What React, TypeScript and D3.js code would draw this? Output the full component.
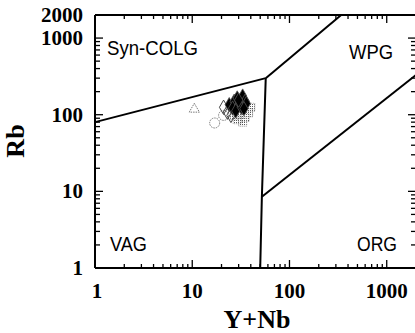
import React from 'react';
import * as d3 from 'd3';

// axis ticks
const xTicks = [1, 10, 100, 1000];
const yTicks = [1, 10, 100, 1000, 2000];

// field boundaries (Y+Nb, Rb)
const synVagX = [1, 57];
const synVagY = [80, 300];
const synWpgX = [57, 340];
const synWpgY = [300, 2000];
const vagOrgX = [57, 52, 50];
const vagOrgY = [300, 8.5, 1];
const orgWpgX = [52, 2000];
const orgWpgY = [8.5, 330];

// samples
const diamondX = [24, 27, 29, 31, 33, 26, 30, 35, 28, 32, 36, 30, 34];
const diamondY = [135, 150, 165, 145, 175, 122, 132, 150, 112, 125, 140, 155, 120];
const openDiamondX = [21, 23, 25];
const openDiamondY = [125, 108, 98];
const squareX = [27, 31, 35, 38, 29, 33, 40];
const squareY = [97, 102, 92, 106, 86, 80, 125];
const circleX = [17, 21];
const circleY = [78, 98];
const triangleX = [10.5];
const triangleY = [118];

const fields = [
  { name: 'Syn-COLG', x: 107, y: 55, w: 91 },
  { name: 'WPG', x: 349, y: 59, w: 44 },
  { name: 'VAG', x: 110, y: 251, w: 37 },
  { name: 'ORG', x: 357, y: 251, w: 40 },
];

const W = 415;
const H = 333;

export default function App() {
  const x = d3.scaleLog().domain([1, 2000]).range([95, 416]);
  const y = d3.scaleLog().domain([1, 2000]).range([268, 15]);

  const minorX = d3.range(0, 4).flatMap((e) => d3.range(2, 10).map((m) => m * 10 ** e)).filter((v) => v <= 2000);
  const minorY = minorX;

  const line = (xs: number[], ys: number[]) =>
    d3.line<number>().x((d) => x(xs[d])).y((d) => y(ys[d]))(xs.map((_, i) => i)) || '';

  const serif = '"Liberation Serif", "Times New Roman", serif';
  const sans = '"Liberation Sans", Arial, sans-serif';

  const diamond = d3.symbol(d3.symbolDiamond, 60)() || '';
  const triangle = d3.symbol(d3.symbolTriangle, 45)() || '';

  return (
    <div style={{ position: 'absolute', left: 0, top: 0 }}>
      <svg width={W} height={H} style={{ display: 'block', background: '#fff' }}>
        <defs>
          <pattern id="dots" width="2" height="2" patternUnits="userSpaceOnUse">
            <rect width="1" height="1" fill="#555" />
          </pattern>
        </defs>

        {/* frame */}
        <g stroke="#000" strokeWidth={2} fill="none">
          <line x1={95} x2={416} y1={268} y2={268} />
          <line x1={95} x2={416} y1={15} y2={15} />
          <line x1={95} x2={95} y1={15} y2={268} />
          <line x1={416} x2={416} y1={15} y2={268} />
        </g>

        {/* ticks */}
        <g stroke="#000" strokeWidth={1.3}>
          {minorX.map((v) => (
            <g key={'mx' + v}>
              <line x1={x(v)} x2={x(v)} y1={268} y2={264} />
              <line x1={x(v)} x2={x(v)} y1={15} y2={19} />
            </g>
          ))}
          {xTicks.map((v) => (
            <g key={'tx' + v}>
              <line x1={x(v)} x2={x(v)} y1={268} y2={260} />
              <line x1={x(v)} x2={x(v)} y1={15} y2={23} />
            </g>
          ))}
          {minorY.map((v) => (
            <g key={'my' + v}>
              <line x1={95} x2={100} y1={y(v)} y2={y(v)} />
              <line x1={416} x2={411} y1={y(v)} y2={y(v)} />
            </g>
          ))}
          {yTicks.map((v) => (
            <g key={'ty' + v}>
              <line x1={95} x2={103} y1={y(v)} y2={y(v)} />
              <line x1={416} x2={408} y1={y(v)} y2={y(v)} />
            </g>
          ))}
        </g>

        {/* tick labels */}
        <g fontFamily={serif} fontWeight="bold" fontSize={21} fill="#000">
          {xTicks.map((v) => (
            <text key={'lx' + v} x={x(v) + (v === 1 ? 2 : 0)} y={298} textAnchor="middle">
              {v}
            </text>
          ))}
          {yTicks.map((v) => (
            <text key={'ly' + v} x={83} y={y(v) + 7} textAnchor="end">
              {v}
            </text>
          ))}
        </g>

        {/* axis titles */}
        <text x={257} y={328} textAnchor="middle" fontFamily={serif} fontWeight="bold" fontSize={26}>
          Y+Nb
        </text>
        <text
          transform="translate(24,141) rotate(-90)"
          textAnchor="middle"
          fontFamily={serif}
          fontWeight="bold"
          fontSize={26}
        >
          Rb
        </text>

        {/* field boundaries */}
        <g stroke="#000" strokeWidth={2} fill="none">
          <path d={line(synVagX, synVagY)} />
          <path d={line(synWpgX, synWpgY)} />
          <path d={line(vagOrgX, vagOrgY)} />
          <path d={line(orgWpgX, orgWpgY)} />
        </g>

        {/* field names */}
        <g fontFamily={sans} fontSize={21} fill="#000">
          {fields.map((f) => (
            <text key={f.name} x={f.x} y={f.y} textLength={f.w} lengthAdjust="spacingAndGlyphs">
              {f.name}
            </text>
          ))}
        </g>

        {/* samples */}
        {squareX.map((v, i) => (
          <rect
            key={'s' + i}
            x={x(v) - 4}
            y={y(squareY[i]) - 4}
            width={8}
            height={8}
            fill="url(#dots)"
            stroke="#888"
            strokeWidth={0.8}
            strokeDasharray="1 1"
          />
        ))}
        {circleX.map((v, i) => (
          <circle
            key={'c' + i}
            cx={x(v)}
            cy={y(circleY[i])}
            r={5}
            fill="none"
            stroke="#777"
            strokeWidth={1}
            strokeDasharray="1.5 1"
          />
        ))}
        {triangleX.map((v, i) => (
          <path
            key={'t' + i}
            d={triangle}
            transform={`translate(${x(v)},${y(triangleY[i])})`}
            fill="none"
            stroke="#777"
            strokeWidth={1}
            strokeDasharray="1.5 1"
          />
        ))}
        {openDiamondX.map((v, i) => (
          <path
            key={'od' + i}
            d={diamond}
            transform={`translate(${x(v)},${y(openDiamondY[i])})`}
            fill="none"
            stroke="#444"
            strokeWidth={1}
          />
        ))}
        {diamondX.map((v, i) => (
          <path
            key={'d' + i}
            d={diamond}
            transform={`translate(${x(v)},${y(diamondY[i])})`}
            fill="#000"
            stroke="#555"
            strokeWidth={0.8}
          />
        ))}
      </svg>
    </div>
  );
}
